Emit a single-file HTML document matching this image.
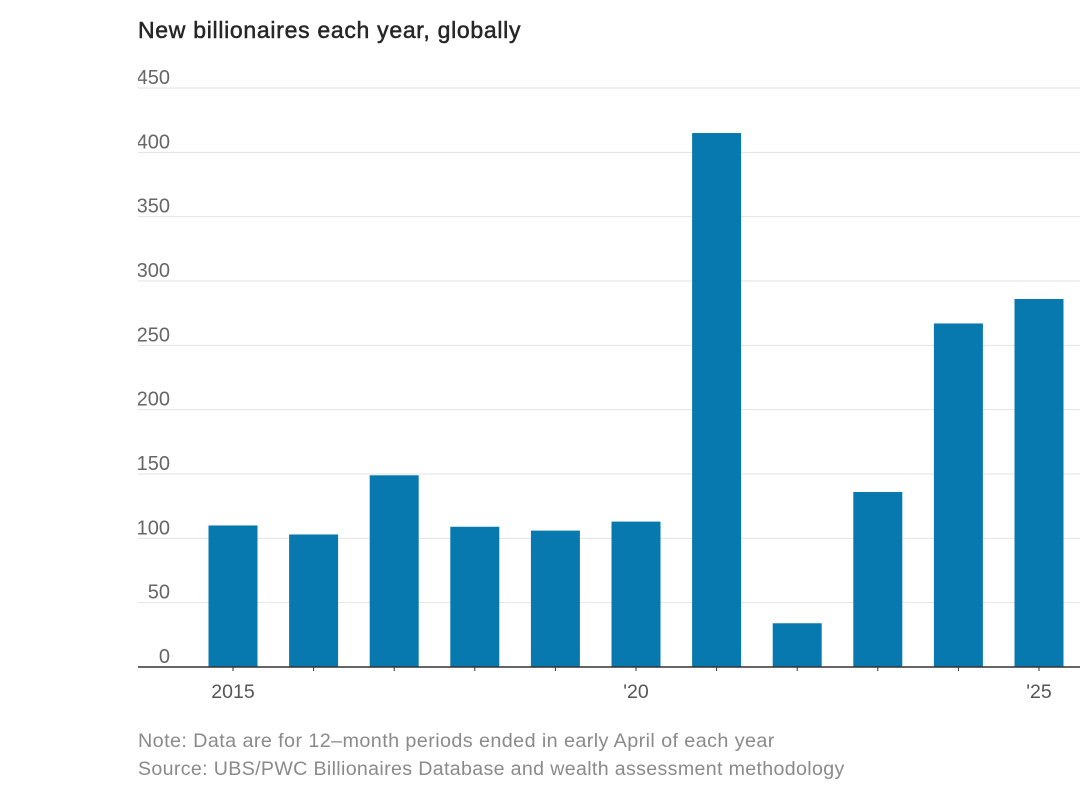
<!DOCTYPE html>
<html><head><meta charset="utf-8"><style>
html,body{margin:0;padding:0;background:#fff;width:1080px;height:810px;overflow:hidden}
svg{display:block}
text{font-family:"Liberation Sans",sans-serif}
</style></head><body>
<svg width="1080" height="810">
<defs><clipPath id="lc"><rect x="138" y="0" width="942" height="810"/></clipPath></defs>
<text x="138" y="38" font-size="23" letter-spacing="0.7" fill="#262626" stroke="#262626" stroke-width="0.5">New billionaires each year, globally</text>
<g id="grid"></g><g id="bars"></g><g id="xaxis"></g>
<text x="138" y="747" font-size="19.8" letter-spacing="0.4" fill="#8a8a8a">Note: Data are for 12–month periods ended in early April of each year</text>
<text x="138" y="775" font-size="19.6" letter-spacing="0.35" fill="#8a8a8a">Source: UBS/PWC Billionaires Database and wealth assessment methodology</text>
</svg>
<script>
const years=[2015,2016,2017,2018,2019,2020,2021,2022,2023,2024,2025];
const values=[110,103,149,109,106,113,415,34,136,267,286];
const yTicks=[0,50,100,150,200,250,300,350,400,450];
const xLabels={2015:"2015",2020:"'20",2025:"'25"};
const NS="http://www.w3.org/2000/svg";
const y0=667,yTop=88,vMax=450;
const y=v=>y0-(y0-yTop)*v/vMax;
const x=yr=>233+(yr-2015)*80.6;
const bw=49;
function mk(tag,attrs,parent){const e=document.createElementNS(NS,tag);for(const k in attrs)e.setAttribute(k,attrs[k]);parent.appendChild(e);return e;}
const g=document.getElementById('grid'),b=document.getElementById('bars'),xa=document.getElementById('xaxis');
yTicks.forEach(t=>{
  if(t>0){const l=mk('line',{x1:138,x2:1080,y1:y(t),y2:y(t),stroke:'#e2e2e2','stroke-width':1},g);
  
  }
  const tx=mk('text',{x:170,y:y(t)-4,'font-size':20,fill:'#666','text-anchor':'end','clip-path':'url(#lc)'},g);
  tx.textContent=t;
  
  
});
years.forEach((yr,i)=>{
  const r=mk('rect',{x:x(yr)-bw/2,y:y(values[i]),width:bw,height:y0-y(values[i]),fill:'#0779ae'},b);
  
  
  const tk=mk('line',{x1:x(yr),x2:x(yr),y1:y0,y2:y0+4,stroke:'#333','stroke-width':1},xa);
  
  
  if(xLabels[yr]){const t=mk('text',{x:x(yr),y:698,'font-size':19.5,fill:'#555','text-anchor':'middle'},xa);
  t.textContent=xLabels[yr];
  
  }
});
const ax=mk('line',{x1:138,x2:1080,y1:y0,y2:y0,stroke:'#333','stroke-width':1.5},xa);


</script>
</body></html>
